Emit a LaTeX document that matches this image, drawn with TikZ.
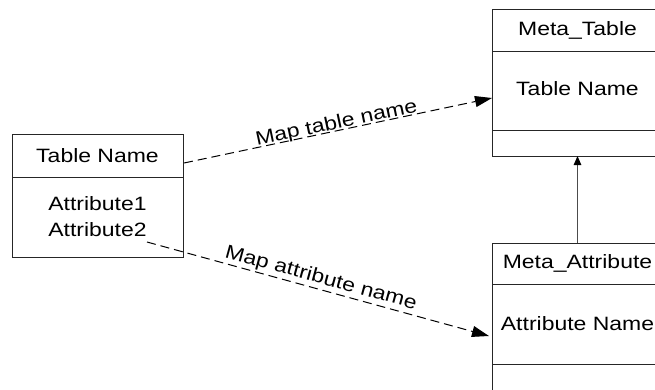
\documentclass[tikz,border=0pt]{standalone}
\usepackage{fontspec}
\setmainfont{Liberation Sans}[FakeStretch=1.19]
\usetikzlibrary{arrows.meta}

\begin{document}
\begin{tikzpicture}[x=1pt,y=-1pt,
  txt/.style={font=\fontsize{19.3}{26}\selectfont, inner sep=0pt},
  umlbox/.style={draw=black!85, line width=1pt, minimum width=171pt,
                 inner sep=0pt, outer sep=0pt, anchor=north west},
  divider/.style={draw=black!85, line width=1pt},
  maplink/.style={draw=black, line width=1pt, dash pattern=on 9pt off 5pt,
                  -{Triangle[length=17pt,width=11pt]}},
  inherit/.style={draw=black!70, line width=1pt,
                  -{Triangle[length=9pt,width=7.5pt,color=black]}},
  linklabel/.style={txt, sloped, above, text depth=0pt}]

\useasboundingbox (0,0) rectangle (655,389);
\clip (0,0) rectangle (655,389);

% source table: name and attributes
\node[umlbox, minimum height=123pt] (src) at (12,134) {};
\draw[divider] (12,177) -- (183,177);
\node[txt] (srcname) at (97.5,155.5) {Table Name};
\node[txt, align=center] (srcattr) at (97.5,216.5) {Attribute1\\Attribute2};

% Meta_Table class
\node[umlbox, minimum height=147pt] (mt) at (492,9) {};
\draw[divider] (492,51) -- (663,51);
\draw[divider] (492,130) -- (663,130);
\node[txt] (mtname) at (577.5,30) {Meta\_Table};
\node[txt] (mtattr) at (577.5,89) {Table Name};

% Meta_Attribute class
\node[umlbox, minimum height=147pt] (ma) at (492,243) {};
\draw[divider] (492,284) -- (663,284);
\draw[divider] (492,364) -- (663,364);
\node[txt] (maname) at (577.5,263.5) {Meta\_Attribute};
\node[txt] (maattr) at (577.5,324) {Attribute Name};

% mapping links
\coordinate (tblfrom) at (184,163);
\coordinate (tblto) at (492,98);
\coordinate (attfrom) at (147,242);
\coordinate (attto) at (489,336);

\draw[maplink] (tblfrom) -- node[linklabel, inner ysep=1.5pt] {Map table name} (tblto);
\draw[maplink] (attfrom) -- node[linklabel, inner ysep=5.5pt] {Map attribute name} (attto);

% generalisation
\draw[inherit] (ma.north) -- (mt.south);
\end{tikzpicture}
\end{document}
